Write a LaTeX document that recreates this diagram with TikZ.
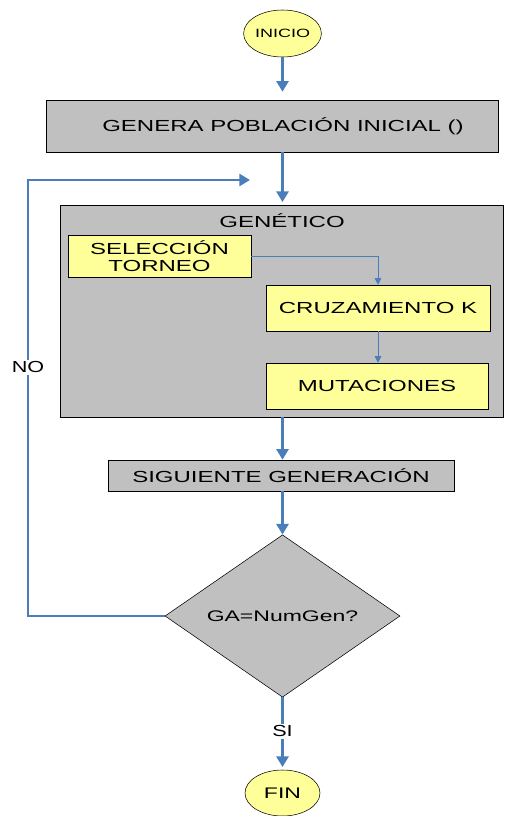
\documentclass[tikz,border=0pt]{standalone}
\usepackage{fontspec}
\setmainfont{Liberation Sans}
\newfontfamily\widesans[FakeStretch=1.5]{Liberation Sans}
\newfontfamily\midsans[FakeStretch=1.35]{Liberation Sans}
\usetikzlibrary{shapes.geometric,arrows.meta}
\definecolor{flowblue}{HTML}{4A7EBB}
\definecolor{boxgray}{HTML}{C0C0C0}
\definecolor{boxyellow}{HTML}{FFFF99}
\tikzset{
  terminal/.style={ellipse,draw=black,fill=boxyellow,inner sep=0pt,font=\widesans\fontsize{9}{10}\selectfont},
  graybox/.style={rectangle,draw=black,fill=boxgray,inner sep=0pt,font=\widesans\fontsize{12}{13}\selectfont},
  boxtext/.style={inner sep=0pt,font=\widesans\fontsize{12}{13}\selectfont},
  yellowbox/.style={rectangle,draw=black,fill=boxyellow,inner sep=0pt,font=\widesans\fontsize{12}{12.5}\selectfont,align=center},
  decision/.style={diamond,draw=black,fill=boxgray,inner sep=0pt,font=\widesans\fontsize{11.5}{12}\selectfont},
  mainflow/.style={draw=flowblue,line width=2.2pt,-{Triangle[length=8pt,width=9pt]}},
  subflow/.style={draw=flowblue,line width=0.7pt,-{Triangle[length=5pt,width=5pt]}},
  lbl/.style={fill=white,inner sep=1.5pt,font=\midsans\fontsize{12}{13}\selectfont}
}
\begin{document}
\begin{tikzpicture}[x=0.75pt,y=-0.75pt]
  \useasboundingbox (0,0) rectangle (509,816);

  % start / end terminals
  \node[terminal,minimum width=55.5pt,minimum height=35.25pt] (ini) at (282.5,33.5) {INICIO};
  \node[terminal,minimum width=56.25pt,minimum height=34.5pt,font=\widesans\fontsize{11.5}{13}\selectfont] (fin) at (282.5,793) {FIN};

  % initial population
  \node[graybox,minimum width=339pt,minimum height=39pt] (gen) at (272,126) {};
  \node[boxtext] (gentext) at (283,126) {GENERA POBLACIÓN INICIAL ()};

  % genetic operators block
  \node[graybox,minimum width=332.25pt,minimum height=159pt] (ga) at (281.5,311) {};
  \node[boxtext] (gatitle) at (282,221) {GENÉTICO};
  \node[yellowbox,minimum width=137.25pt,minimum height=31.5pt] (sel) at (159.5,256) {SELECCIÓN\\TORNEO};
  \node[yellowbox,minimum width=168pt,minimum height=34.5pt] (cru) at (378,308) {CRUZAMIENTO K};
  \node[yellowbox,minimum width=166.5pt,minimum height=34.5pt] (mut) at (377,386) {MUTACIONES};

  % next generation
  \node[graybox,minimum width=259.5pt,minimum height=23.25pt] (sig) at (281,475.5) {SIGUIENTE GENERACIÓN};

  % stop test
  \node[decision,minimum width=176.25pt,minimum height=118.5pt] (dec) at (282.5,616) {GA=NumGen?};

  % free end of the loop-back line
  \coordinate (loopend) at (250,180);

  % main flow
  \draw[mainflow,shorten >=6pt] (ini.south) -- (ini.south |- gen.north);
  \draw[mainflow,shorten >=2pt] (gen.south -| ini.south) -- (ini.south |- ga.north);
  \draw[mainflow] (ga.south -| ini.south) -- (ini.south |- sig.north);
  \draw[mainflow] (sig.south -| ini.south) -- (dec.north);
  \draw[mainflow,shorten >=2pt] (dec.south) -- node[lbl,pos=0.47] (si) {SI} (fin.north);
  \draw[mainflow] (dec.west) -- (28,616) -- node[lbl,pos=0.57] (no) {NO} (28,180) -- (loopend);

  % inner flow of operators
  \draw[subflow] (sel.east) -| (cru.north);
  \draw[subflow] (cru.south) -- (cru.south |- mut.north);
\end{tikzpicture}
\end{document}
